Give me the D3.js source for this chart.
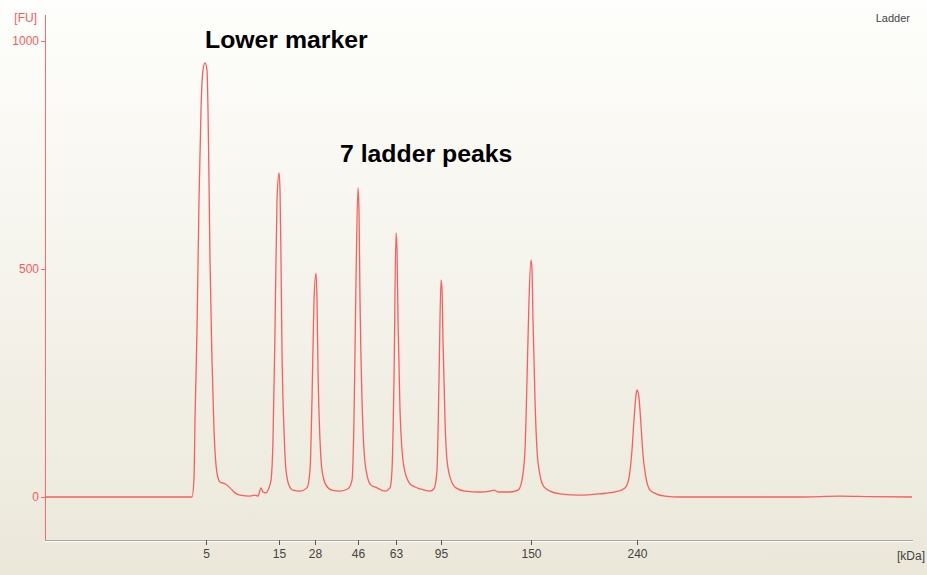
<!DOCTYPE html>
<html>
<head>
<meta charset="utf-8">
<script src="https://cdn.jsdelivr.net/npm/d3@7"></script>
<style>
  body { margin: 0; }
  svg { display: block; }
  .tick-y { font: 12px "Liberation Sans", Arial, sans-serif; fill: #ff5a5a; }
  .tick-x { font: 12px "Liberation Sans", Arial, sans-serif; fill: #444; }
  .note { font: bold 24.8px "Liberation Sans", Arial, sans-serif; fill: #000; }
</style>
</head>
<body>
<div id="viz_container"></div>
<script>
// migration time (s) and fluorescence (FU)
const time = [0.0, 14.7, 14.9, 15.0, 15.2, 15.4, 15.6, 15.8, 16.0, 16.2, 16.3, 16.4, 16.5, 16.7, 16.9, 17.1, 17.3, 17.5,
  18.0, 18.5, 19.0, 19.5, 20.5, 21.0, 21.3, 21.6, 21.8, 22.1, 22.3, 22.6, 22.8, 23.0, 23.2, 23.4, 23.5, 23.6, 23.7, 23.9,
  24.1, 24.4, 24.8, 25.5, 26.2, 26.5, 26.7, 26.9, 27.1, 27.2, 27.3, 27.5, 27.7, 28.1, 28.7, 29.5, 30.3, 30.7, 30.9, 31.1,
  31.3, 31.4, 31.5, 31.7, 31.9, 32.2, 32.6, 33.2, 34.0, 34.5, 34.7, 34.9, 35.1, 35.2, 35.3, 35.5, 35.7, 36.0, 36.5, 37.0,
  37.5, 38.5, 38.9, 39.2, 39.4, 39.6, 39.7, 39.8, 40.0, 40.2, 40.6, 41.1, 42.0, 43.5, 44.5, 44.9, 45.3, 46.5, 47.3, 47.7,
  48.0, 48.2, 48.4, 48.6, 48.7, 48.8, 49.0, 49.2, 49.5, 49.9, 50.5, 51.5, 53.5, 55.5, 57.0, 58.0, 58.4, 58.7, 58.9, 59.1,
  59.2, 59.4, 59.6, 59.8, 60.1, 60.5, 61.1, 62.0, 63.5, 75.5, 79.5, 82.5, 86.7];
const fu = [0, 0, 40, 169, 366, 651, 849, 936, 952, 936, 849, 695, 520, 300, 147, 70, 42, 33,
  29, 20, 9, 4, 2, 4, 2, 20, 11, 9, 15, 37, 125, 366, 651, 711, 673, 520, 322, 147,
  59, 26, 15, 13, 20, 59, 213, 432, 491, 432, 279, 125, 59, 26, 15, 13, 18, 37, 169, 476,
  678, 629, 432, 213, 103, 48, 26, 20, 13, 20, 59, 257, 579, 542, 388, 191, 103, 55, 29, 22,
  18, 13, 18, 59, 257, 476, 454, 344, 169, 81, 37, 20, 13, 11, 13, 15, 11, 11, 15, 37,
  103, 257, 432, 520, 498, 388, 213, 103, 48, 22, 13, 7, 4, 7, 11, 20, 42, 103, 169, 224,
  235, 217, 158, 92, 42, 15, 7, 2, 0, 0, 2, 1, 0];

// ladder sizes and the time at which each one runs
const sizeLabels = ["5", "15", "28", "46", "63", "95", "150", "240"];
const sizeTimes = [16.1, 23.4, 27.0, 31.3, 35.1, 39.6, 48.6, 59.2];
const fuTicks = [0, 500, 1000];

const width = 927, height = 575;
const margin = {top: 15, right: 15, bottom: 35, left: 45};

const svg = d3.select("#viz_container")
  .append("svg")
    .attr("width", width)
    .attr("height", height);

// background gradient
const grad = svg.append("defs").append("linearGradient")
    .attr("id", "bg").attr("x1", 0).attr("y1", 0).attr("x2", 0).attr("y2", 1);
grad.append("stop").attr("offset", "0%").attr("stop-color", "#fefefc");
grad.append("stop").attr("offset", "100%").attr("stop-color", "#ebe8da");
svg.append("rect")
    .attr("width", width).attr("height", height)
    .attr("fill", "url(#bg)");

const x = d3.scaleLinear()
  .domain([0, 86.7])
  .range([margin.left, 912]);
const y = d3.scaleLinear()
  .domain([0, 1000])
  .range([497, 41]);

const axisY = 540;

// x axis (grey with white highlight)
svg.append("line")
    .attr("x1", margin.left).attr("x2", 913)
    .attr("y1", axisY + 1.5).attr("y2", axisY + 1.5)
    .attr("stroke", "#ffffff").attr("stroke-width", 1);
const xAxis = svg.append("g")
    .attr("transform", `translate(0, ${axisY})`)
    .call(d3.axisBottom(x)
      .tickValues(sizeTimes)
      .tickFormat((d, i) => sizeLabels[i])
      .tickSize(5)
      .tickPadding(4)
      .tickSizeOuter(0));
xAxis.select(".domain").attr("stroke", "#a8a69c").attr("d", `M${margin.left},0.5H913`);
xAxis.selectAll(".tick line").attr("stroke", "#555");
xAxis.selectAll("text").attr("class", "tick-x").attr("fill", null);

// y axis (red)
const yAxis = svg.append("g")
    .attr("transform", `translate(${margin.left}, 0)`)
    .call(d3.axisLeft(y)
      .tickValues(fuTicks)
      .tickFormat(d3.format("d"))
      .tickSize(4)
      .tickPadding(2)
      .tickSizeOuter(0));
yAxis.select(".domain").attr("stroke", "#ff6a6a").attr("d", `M0.5,${margin.top}V${axisY}`);
yAxis.selectAll(".tick line").attr("stroke", "#ff6a6a");
yAxis.selectAll("text").attr("class", "tick-y").attr("fill", null);

// electropherogram trace
const points = time.map((t, i) => [t, fu[i]]);
svg.append("path")
    .datum(points)
    .attr("fill", "none")
    .attr("stroke", "#ff5c5c")
    .attr("stroke-width", 1.3)
    .attr("stroke-linejoin", "round")
    .attr("d", d3.line()
      .x(d => x(d[0]))
      .y(d => y(d[1]))
      .curve(d3.curveMonotoneX));

// unit labels
svg.append("text")
    .attr("class", "tick-y")
    .attr("x", 37).attr("y", 22)
    .attr("text-anchor", "end")
  .text("[FU]");
svg.append("text")
    .attr("class", "tick-x")
    .attr("x", 897).attr("y", axisY + 20)
  .text("[kDa]");
svg.append("text")
    .attr("class", "tick-x")
    .attr("x", 910).attr("y", 22)
    .attr("text-anchor", "end")
    .style("font-size", "11px")
  .text("Ladder");

// annotations
svg.append("text")
    .attr("class", "note")
    .attr("x", 205).attr("y", 48)
  .text("Lower marker");
svg.append("text")
    .attr("class", "note")
    .attr("x", 340).attr("y", 162)
  .text("7 ladder peaks");
</script>
</body>
</html>
